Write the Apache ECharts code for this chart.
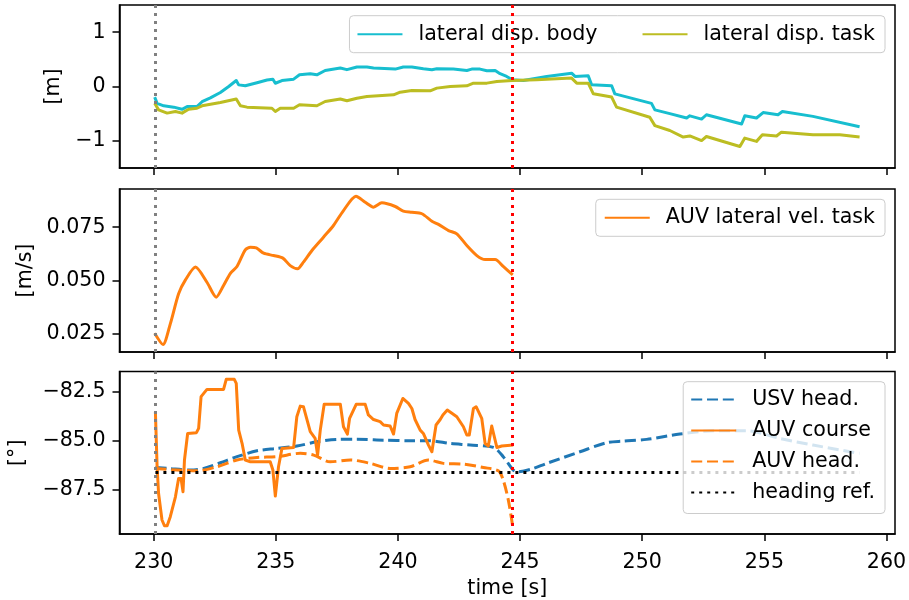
<!DOCTYPE html>
<html>
<head>
<meta charset="utf-8">
<script src="https://cdn.jsdelivr.net/npm/echarts@6/dist/echarts.min.js"></script>
<style>
  html, body { margin: 0; padding: 0; background: #fff; }
  #chart { width: 909px; height: 600px; }
</style>
</head>
<body>
<div id="chart"></div>
<script>
// ---- time axis ticks ----
const timeTicks = [230, 235, 240, 245, 250, 255, 260];

// ---- event markers (vertical dotted lines) ----
const startTime = 230.07;
const endTime = 244.68;

// ---- panel 1: lateral displacement [m] ----
const bodyT = [230.04,230.14,230.41,230.82,231.16,231.37,231.77,231.98,232.32,232.73,233.07,233.38,233.48,233.75,234.23,234.64,234.88,234.98,235.25,235.73,235.97,236.41,236.68,237.02,237.64,237.91,238.32,238.73,239.0,239.89,240.22,240.57,241.04,241.39,241.59,242.27,242.82,243.02,243.36,243.64,243.98,244.18,244.45,244.68,245.13,246.09,247.11,247.25,247.79,247.93,248.75,248.88,250.38,250.52,251.13,251.82,251.95,252.43,252.63,254.07,254.2,254.68,254.95,255.56,255.74,256.99,258.9];
const bodyY = [-0.195,-0.31,-0.355,-0.38,-0.42,-0.37,-0.37,-0.28,-0.21,-0.11,0.0,0.11,0.03,0.013,0.07,0.12,0.135,0.06,0.11,0.135,0.215,0.235,0.215,0.295,0.34,0.31,0.36,0.36,0.34,0.32,0.36,0.36,0.325,0.31,0.325,0.32,0.295,0.32,0.32,0.29,0.295,0.235,0.185,0.123,0.11,0.185,0.245,0.185,0.197,0.03,0.013,-0.135,-0.31,-0.43,-0.50,-0.58,-0.54,-0.60,-0.52,-0.69,-0.54,-0.58,-0.48,-0.52,-0.46,-0.55,-0.74];

const taskT = [230.04,230.2,230.55,230.89,231.16,231.43,231.77,231.98,232.73,233.38,233.55,233.82,234.84,234.98,235.18,235.73,235.97,236.68,237.02,237.64,237.91,238.32,238.73,239.82,240.09,240.57,241.32,241.59,242.14,242.82,243.09,243.64,244.05,244.68,245.68,247.11,247.32,247.79,248.0,248.75,248.95,250.31,250.52,251.13,251.68,251.95,252.43,252.63,254.0,254.2,254.68,254.92,255.5,255.7,256.99,258.09,258.9];
const taskY = [-0.31,-0.43,-0.49,-0.46,-0.49,-0.42,-0.40,-0.355,-0.295,-0.23,-0.355,-0.38,-0.40,-0.46,-0.40,-0.40,-0.337,-0.355,-0.276,-0.23,-0.263,-0.215,-0.184,-0.153,-0.104,-0.074,-0.08,-0.03,0.0,0.013,0.062,0.062,0.092,0.11,0.123,0.155,0.062,0.062,-0.135,-0.195,-0.38,-0.565,-0.72,-0.81,-0.93,-0.91,-0.995,-0.92,-1.105,-0.95,-1.01,-0.89,-0.91,-0.84,-0.89,-0.89,-0.93];

const dispTicks = [-1, 0, 1];

// ---- panel 2: AUV lateral velocity [m/s] ----
const velT = [230.04,230.38,230.68,231.02,231.3,231.71,232.18,232.56,232.86,233.14,233.41,233.75,233.96,234.2,234.5,234.91,235.29,235.59,235.89,236.13,236.48,236.95,237.36,237.77,238.28,238.66,239.0,239.34,239.89,240.22,240.57,240.98,241.39,241.66,242.07,242.41,242.82,243.23,243.57,243.98,244.31,244.7];
const velY = [0.0253,0.0200,0.0297,0.0438,0.0503,0.0563,0.0492,0.0422,0.0477,0.0534,0.0566,0.0644,0.0656,0.0653,0.0628,0.0617,0.0605,0.0570,0.0555,0.0586,0.0641,0.0703,0.0758,0.0828,0.0895,0.0867,0.0844,0.0864,0.0847,0.0825,0.0820,0.0813,0.0778,0.0763,0.0734,0.0719,0.0664,0.0617,0.0598,0.0598,0.0566,0.0527];

const velTicks = [0.025, 0.05, 0.075];

// ---- panel 3: headings [deg] ----
const usvT = [230.07,230.61,231.5,232.05,232.73,233.41,234.23,235.05,235.86,236.68,237.5,238.32,239.41,240.5,241.32,242.14,242.96,243.91,244.31,244.72,244.86,245.41,246.09,247.45,248.54,249.22,250.18,251.54,252.9,254.27,255.63,256.99,258.9];
const usvY = [-86.36,-86.41,-86.49,-86.41,-86.12,-85.81,-85.51,-85.39,-85.27,-85.05,-84.93,-84.92,-84.97,-85.0,-85.0,-85.14,-85.22,-85.34,-85.81,-86.49,-86.58,-86.46,-86.15,-85.56,-85.1,-85.02,-84.93,-84.66,-84.49,-84.49,-84.88,-85.22,-85.64];

const courseT = [230.07,230.14,230.2,230.34,230.44,230.55,230.68,230.89,231.02,231.12,231.2,231.26,231.39,231.75,231.84,231.94,232.18,232.86,232.97,233.3,233.38,233.48,233.62,233.75,233.96,234.77,234.88,234.98,235.11,235.25,235.73,235.86,236.0,236.13,236.41,236.61,236.71,236.82,236.98,237.64,237.77,237.93,238.02,238.29,238.66,238.79,239.0,239.27,239.41,239.68,239.82,239.95,240.2,240.43,240.57,240.7,240.91,241.04,241.25,241.39,241.56,241.73,241.84,242.02,242.41,242.68,242.82,242.92,243.09,243.2,243.43,243.57,243.7,243.84,244.05,244.25,244.72];
const courseY = [-83.53,-86.32,-87.68,-89.03,-89.32,-89.32,-88.86,-87.85,-86.92,-86.92,-87.59,-85.98,-84.63,-84.59,-84.37,-82.76,-82.39,-82.39,-81.88,-81.88,-82.08,-84.46,-85.14,-85.98,-86.07,-86.07,-86.49,-87.81,-86.32,-85.39,-85.34,-83.78,-83.24,-83.27,-84.54,-84.88,-85.73,-84.46,-83.14,-83.14,-84.29,-84.66,-83.86,-83.15,-83.15,-83.69,-83.92,-84.03,-84.2,-84.25,-84.66,-83.61,-82.85,-83.1,-83.36,-83.92,-84.46,-84.63,-85.22,-85.56,-84.2,-83.92,-83.69,-83.44,-83.78,-84.29,-84.71,-84.71,-83.36,-83.27,-83.86,-85.14,-85.27,-84.25,-85.34,-85.27,-85.22];

const auvHeadT = [230.07,230.96,231.77,232.59,233.41,234.23,235.05,236.0,236.55,237.23,238.05,238.87,239.68,240.5,241.25,241.86,242.68,243.5,244.11,244.31,244.52,244.7];
const auvHeadY = [-86.41,-86.49,-86.53,-86.32,-85.98,-85.85,-85.81,-85.64,-85.73,-86.07,-85.98,-86.15,-86.41,-86.32,-85.98,-86.15,-86.19,-86.36,-86.53,-87.0,-88.02,-89.37];

const refT = [230.07, 258.9];
const refY = [-86.61, -86.61];

const headTicks = [-87.5, -85, -82.5];

// ---- styling helpers ----
const FONT = 'DejaVu Sans';
const FS = 20.6;
const LW = 3;
const DASH = [11, 4.8];
const DOT = [3, 5];
const C = {
  cyan: '#17becf', olive: '#bcbd22', orange: '#ff7f0e', blue: '#1f77b4',
  black: '#000000', gray: '#808080', red: '#ff0000'
};

const pairs = (t, y) => t.slice(0, Math.min(t.length, y.length)).map((v, i) => [v, y[i]]);
const fmt = d => v => (v < 0 ? '\u2212' : '') + Math.abs(v).toFixed(d);

const grids = [
  { left: 119.5, right: 14, top: 5, height: 163 },
  { left: 119.5, right: 14, top: 189, height: 163 },
  { left: 119.5, right: 14, top: 371.5, height: 162.5 }
].map(g => Object.assign(g, {
  show: true, borderColor: '#000', borderWidth: 1.5, backgroundColor: 'transparent',
  containLabel: false, outerBoundsMode: 'none'
}));

function xAxis(i, showLabels) {
  return {
    type: 'value', gridIndex: i, min: 228.6, max: 260.35,
    axisLine: { show: true, onZero: false, lineStyle: { color: '#000', width: 1.5 } },
    axisTick: { show: true, length: 7, lineStyle: { color: '#000', width: 1.5 }, customValues: timeTicks },
    axisLabel: { show: showLabels, customValues: timeTicks, color: '#000', fontFamily: FONT, fontSize: FS, margin: 18 },
    splitLine: { show: false },
    name: showLabels ? 'time [s]' : '',
    nameLocation: 'middle', nameGap: 44,
    nameTextStyle: { color: '#000', fontFamily: FONT, fontSize: FS }
  };
}

function yAxis(i, min, max, ticks, dec, name, gap) {
  return {
    type: 'value', gridIndex: i, min: min, max: max,
    axisLine: { show: true, onZero: false, lineStyle: { color: '#000', width: 1.5 } },
    axisTick: { show: true, length: 7, lineStyle: { color: '#000', width: 1.5 }, customValues: ticks },
    axisLabel: { customValues: ticks, formatter: fmt(dec), color: '#000', fontFamily: FONT, fontSize: FS, margin: 14 },
    splitLine: { show: false },
    name: name, nameLocation: 'middle', nameGap: gap, nameRotate: 90,
    nameTextStyle: { color: '#000', fontFamily: FONT, fontSize: FS }
  };
}

function lineSeries(name, i, t, y, color, type, extra) {
  return Object.assign({
    name: name, type: 'line', xAxisIndex: i, yAxisIndex: i,
    data: pairs(t, y), symbol: 'none', showSymbol: false,
    lineStyle: { color: color, width: LW, type: type, cap: 'butt', join: 'round' },
    itemStyle: { color: color },
    animation: false, silent: true, z: 2
  }, extra || {});
}

function eventLines() {
  return {
    silent: true, symbol: ['none', 'none'], label: { show: false }, animation: false,
    data: [
      { xAxis: startTime, lineStyle: { color: C.gray, width: LW, type: DOT } },
      { xAxis: endTime, lineStyle: { color: C.red, width: LW, type: DOT } }
    ]
  };
}

function legend(names, top, extra) {
  return Object.assign({
    data: names, right: 24, top: top, selectedMode: false,
    itemWidth: 45, itemHeight: 14, itemGap: 40,
    padding: [8, 10, 8, 7],
    backgroundColor: 'rgba(255,255,255,0.8)', borderColor: '#cccccc', borderWidth: 1, borderRadius: 4,
    textStyle: { color: '#000', fontFamily: FONT, fontSize: FS, padding: [0, 0, 0, 11] },
    itemStyle: { opacity: 0 }
  }, extra || {});
}

const option = {
  animation: false,
  backgroundColor: '#ffffff',
  grid: grids,
  xAxis: [xAxis(0, false), xAxis(1, false), xAxis(2, true)],
  yAxis: [
    yAxis(0, -1.5, 1.5, dispTicks, 0, '[m]', 50),
    yAxis(1, 0.0165, 0.0929, velTicks, 3, '[m/s]', 83),
    yAxis(2, -89.74, -81.48, headTicks, 1, '[°]', 91)
  ],
  legend: [
    legend(['lateral disp. body', 'lateral disp. task'], 15.7, { itemGap: 44 }),
    legend(['AUV lateral vel. task'], 199.3, { padding: [8, 10, 8, 8] }),
    legend(['USV head.', 'AUV course', 'AUV head.', 'heading ref.'], 381.7,
      { orient: 'vertical', itemGap: 10, padding: [7.3, 10, 10.5, 7] })
  ],
  series: [
    lineSeries('lateral disp. body', 0, bodyT, bodyY, C.cyan, 'solid', { markLine: eventLines() }),
    lineSeries('lateral disp. task', 0, taskT, taskY, C.olive, 'solid'),
    lineSeries('AUV lateral vel. task', 1, velT, velY, C.orange, 'solid', { smooth: 0.25, markLine: eventLines() }),
    lineSeries('USV head.', 2, usvT, usvY, C.blue, DASH, { smooth: 0.3, markLine: eventLines() }),
    lineSeries('AUV course', 2, courseT, courseY, C.orange, 'solid'),
    lineSeries('AUV head.', 2, auvHeadT, auvHeadY, C.orange, DASH, { smooth: 0.3 }),
    lineSeries('heading ref.', 2, refT, refY, C.black, DOT)
  ]
};

const chart = echarts.init(document.getElementById('chart'), null, { renderer: 'canvas' });
chart.setOption(option);
</script>
</body>
</html>
